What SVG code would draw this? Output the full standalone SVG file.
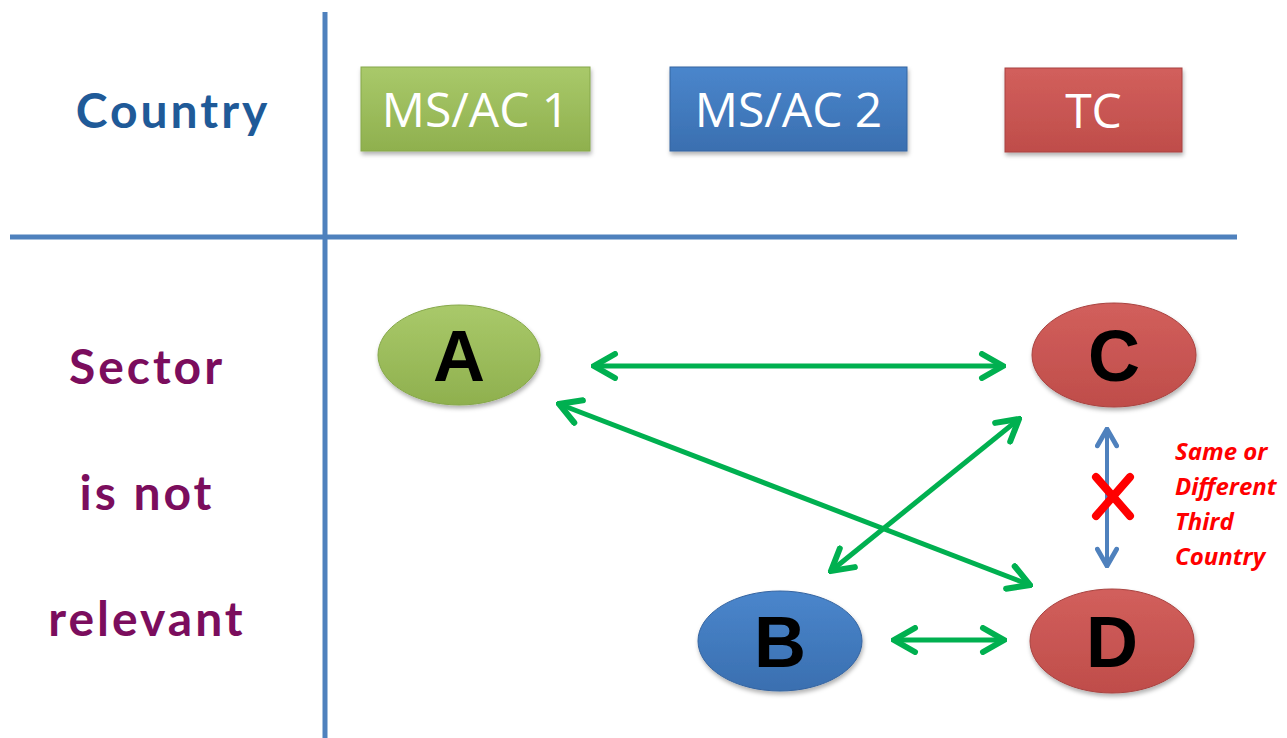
<svg xmlns="http://www.w3.org/2000/svg" width="1287" height="738" viewBox="0 0 1287 738">
<style>
.grid{stroke:#4f81bd;stroke-width:5;fill:none}
.boxt{font-family:"Open Sans","Liberation Sans",sans-serif;font-size:48px;fill:#ffffff;text-anchor:middle}
.nodet{font-family:"Liberation Sans",Arial,sans-serif;font-weight:bold;font-size:72px;fill:#000000;text-anchor:middle}
.side{font-family:"Lato","Noto Sans",sans-serif;font-weight:bold;font-size:48px;letter-spacing:3px;text-anchor:middle}
.garrow{stroke:#00b050;stroke-width:5;fill:none;marker-start:url(#gs);marker-end:url(#ge)}
.note{font-family:"Open Sans","Liberation Sans",sans-serif;font-weight:bold;font-style:italic;font-size:24px;fill:#ff0000}
</style>
<defs>
<marker id="ge" viewBox="0 0 20 20" refX="18" refY="10" markerWidth="6" markerHeight="6" markerUnits="strokeWidth" orient="auto">
<path d="M4,2 L18,10 L4,18" fill="none" stroke="#00b050" stroke-width="4" stroke-linejoin="miter" stroke-linecap="round"/>
</marker>
<marker id="gs" viewBox="0 0 20 20" refX="2" refY="10" markerWidth="6" markerHeight="6" markerUnits="strokeWidth" orient="auto">
<path d="M16,2 L2,10 L16,18" fill="none" stroke="#00b050" stroke-width="4" stroke-linejoin="miter" stroke-linecap="round"/>
</marker>
<marker id="be" viewBox="0 0 20 20" refX="18" refY="10" markerWidth="6" markerHeight="6" markerUnits="strokeWidth" orient="auto">
<path d="M4,2 L18,10 L4,18" fill="none" stroke="#4f81bd" stroke-width="4" stroke-linecap="round"/>
</marker>
<marker id="bs" viewBox="0 0 20 20" refX="2" refY="10" markerWidth="6" markerHeight="6" markerUnits="strokeWidth" orient="auto">
<path d="M16,2 L2,10 L16,18" fill="none" stroke="#4f81bd" stroke-width="4" stroke-linecap="round"/>
</marker>
<linearGradient id="gGreen" x1="0" y1="0" x2="0" y2="1"><stop offset="0" stop-color="#a9c96a"/><stop offset="1" stop-color="#8fb04e"/></linearGradient>
<linearGradient id="gBlue" x1="0" y1="0" x2="0" y2="1"><stop offset="0" stop-color="#4a86cc"/><stop offset="1" stop-color="#3a6fb0"/></linearGradient>
<linearGradient id="gRed" x1="0" y1="0" x2="0" y2="1"><stop offset="0" stop-color="#d25f5c"/><stop offset="1" stop-color="#bf4d4a"/></linearGradient>
<filter id="sh" x="-10%" y="-10%" width="130%" height="140%"><feDropShadow dx="1" dy="3" stdDeviation="2" flood-color="#000" flood-opacity="0.3"/></filter>
</defs>
<rect width="1287" height="738" fill="#ffffff"/>
<g id="grid">
<line class="grid" x1="325" y1="12" x2="325" y2="738"/>
<line class="grid" x1="10" y1="237" x2="1237" y2="237"/>
</g>
<g id="labels">
<text class="side" x="173" y="128" fill="#1f5a98">Country</text>
<text class="side" x="147" y="384" fill="#7b0d5d">Sector</text>
<text class="side" x="147" y="510" fill="#7b0d5d">is not</text>
<text class="side" x="147" y="636" fill="#7b0d5d">relevant</text>
</g>
<g id="msac1"><rect x="361" y="67" width="229" height="84" fill="url(#gGreen)" stroke="#86a84a" stroke-width="1" filter="url(#sh)"/><text class="boxt" x="475.5" y="127">MS/AC 1</text></g>
<g id="msac2"><rect x="670" y="67" width="237" height="84" fill="url(#gBlue)" stroke="#3564a0" stroke-width="1" filter="url(#sh)"/><text class="boxt" x="788.5" y="127">MS/AC 2</text></g>
<g id="tc"><rect x="1005" y="68" width="177" height="84" fill="url(#gRed)" stroke="#a84340" stroke-width="1" filter="url(#sh)"/><text class="boxt" x="1093.5" y="128">TC</text></g>
<g id="nodeA"><ellipse cx="459" cy="355" rx="81" ry="50" fill="url(#gGreen)" stroke="#86a84a" stroke-width="1" filter="url(#sh)"/><text class="nodet" x="459" y="381">A</text></g>
<g id="nodeC"><ellipse cx="1114" cy="355" rx="82" ry="52" fill="url(#gRed)" stroke="#a84340" stroke-width="1" filter="url(#sh)"/><text class="nodet" x="1114" y="381">C</text></g>
<g id="nodeB"><ellipse cx="780" cy="641" rx="82" ry="50" fill="url(#gBlue)" stroke="#3564a0" stroke-width="1" filter="url(#sh)"/><text class="nodet" x="780" y="667">B</text></g>
<g id="nodeD"><ellipse cx="1112" cy="641" rx="82" ry="52" fill="url(#gRed)" stroke="#a84340" stroke-width="1" filter="url(#sh)"/><text class="nodet" x="1112" y="667">D</text></g>
<g id="connectors">
<line class="garrow" x1="594" y1="366" x2="1003" y2="366"/>
<line class="garrow" x1="559" y1="404" x2="1030" y2="585"/>
<line class="garrow" x1="831" y1="571" x2="1019" y2="419"/>
<line class="garrow" x1="894" y1="640" x2="1004" y2="640"/>
<line x1="1107" y1="429" x2="1107" y2="566" stroke="#4f81bd" stroke-width="4" marker-start="url(#bs)" marker-end="url(#be)"/>
</g>
<g id="cross" stroke="#ff0000" stroke-width="8" stroke-linecap="round">
<line x1="1096" y1="477" x2="1130" y2="516"/>
<line x1="1130" y1="477" x2="1096" y2="516"/>
</g>
<g id="note">
<text class="note" x="1175" y="460">Same or</text>
<text class="note" x="1175" y="495">Different</text>
<text class="note" x="1175" y="530">Third</text>
<text class="note" x="1175" y="565">Country</text>
</g>
</svg>
